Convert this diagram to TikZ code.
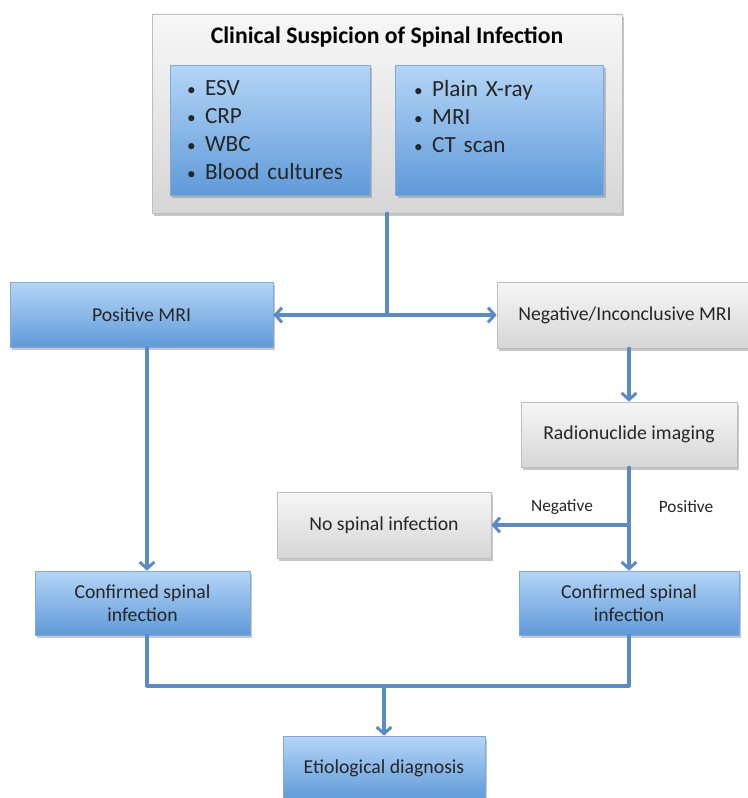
\documentclass[tikz,border=0pt]{standalone}
\usepackage{fontspec}
\setmainfont{Carlito}
\usetikzlibrary{arrows.meta,shadows}
\definecolor{ink}{HTML}{262626}
\definecolor{link}{HTML}{5A8BC8}
\definecolor{bluetop}{HTML}{B4D5F6}
\definecolor{bluebot}{HTML}{5F9AD9}
\definecolor{blueedge}{HTML}{7FA9D9}
\definecolor{greytop}{HTML}{F7F7F7}
\definecolor{greybot}{HTML}{D6D6D6}
\definecolor{greyedge}{HTML}{BDBDBD}
\tikzset{
  >={Straight Barb[length=5pt,width=11pt,line width=2.2pt]},
  every picture/.style={line cap=round, line join=round},
  box/.style={rectangle, align=center, text=ink, font=\fontsize{14.8}{17}\selectfont,
    inner sep=3pt, line width=0.5pt,
    drop shadow={opacity=0.45, shadow xshift=1.5pt, shadow yshift=-2pt}},
  bluebox/.style={box, draw=blueedge, top color=bluetop, bottom color=bluebot},
  greybox/.style={box, draw=greyedge, top color=greytop, bottom color=greybot},
  listbox/.style={bluebox, align=left, font=\fontsize{17.4}{21}\selectfont},
  arr/.style={->, draw=link, line width=2.3pt},
  line/.style={draw=link, line width=2.3pt},
  lbl/.style={font=\fontsize{13}{15}\selectfont, text=ink},
}
\newcommand{\itm}[1]{\makebox[13.5pt][l]{\fontsize{13}{15}\selectfont\textbullet}#1}

\begin{document}
\begin{tikzpicture}[x=0.75pt, y=-0.75pt]
  \useasboundingbox (0,0) rectangle (747,798);
  % ---------------- suspicion ----------------
  \node[greybox, minimum width=352.5pt, minimum height=149.25pt] (top) at (387,113.5) {};
  \node[font=\bfseries\fontsize{17.8}{21}\selectfont, text=black] (title) at (387,37) {Clinical Suspicion of Spinal Infection};
  \node[listbox, minimum width=150pt, minimum height=97.5pt, text width=124.5pt] (lab) at (270,130.5)
    {\itm{ESV}\\ \itm{CRP}\\ \itm{WBC}\\ \itm{Blood cultures}};
  \node[listbox, minimum width=156pt, minimum height=97.5pt, text width=128pt] (img) at (499.5,130.5)
    {\itm{Plain X-ray}\\ \itm{MRI}\\ \itm{CT scan}\\ \phantom{B}};

  % ---------------- MRI ----------------
  \node[bluebox, minimum width=197.25pt, minimum height=48.75pt] (pos) at (141.5,315) {Positive MRI};
  \node[greybox, minimum width=192pt, minimum height=49.5pt] (neg) at (625,315) {Negative/Inconclusive MRI};
  \draw[arr] (top.south) |- (pos.east);
  \draw[arr] (top.south) |- (neg.west);

  % ---------------- radionuclide ----------------
  \node[greybox, minimum width=162pt, minimum height=48.75pt] (rad) at (629,434.5) {Radionuclide imaging};
  \node[greybox, minimum width=160.5pt, minimum height=49.5pt] (none) at (384,525) {No spinal infection};
  \node[lbl] (neglbl) at (562,507) {Negative};
  \node[lbl] (poslbl) at (686,507) {Positive};
  \draw[arr] (rad.north |- neg.south) -- (rad.north);
  \draw[arr] (rad.south |- none.east) -- (none.east);

  % ---------------- confirmed ----------------
  \node[bluebox, minimum width=161.25pt, minimum height=48pt] (conf1) at (142.5,603) {Confirmed spinal\\ infection};
  \node[bluebox, minimum width=165pt, minimum height=48pt] (conf2) at (629,603) {Confirmed spinal\\ infection};
  \draw[arr] (pos.south -| 147,0) -- (conf1.north -| 147,0);
  \draw[arr] (rad.south) -- (conf2.north);

  % ---------------- diagnosis ----------------
  \node[bluebox, minimum width=151.5pt, minimum height=48pt] (etio) at (384,768) {Etiological diagnosis};
  \coordinate (join) at (384,686);
  \draw[line] (conf1.south -| 147,0) |- (join) -| (conf2.south);
  \draw[arr] (join) -- (etio.north);
\end{tikzpicture}
\end{document}
